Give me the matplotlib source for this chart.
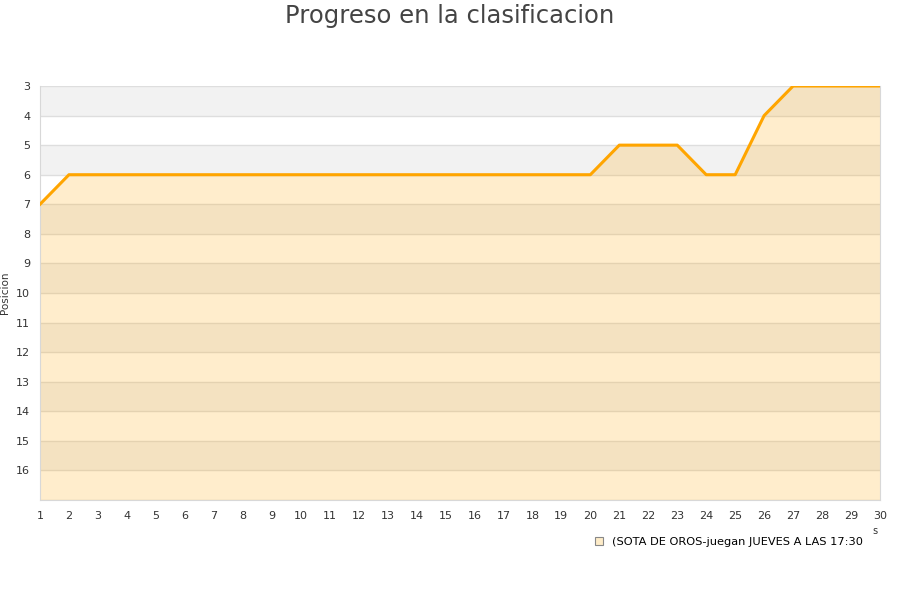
import matplotlib
matplotlib.use("Agg")
import matplotlib.pyplot as plt
from matplotlib.patches import Patch

jornadas = list(range(1, 31))
posicion = [7, 6, 6, 6, 6, 6, 6, 6, 6, 6, 6, 6, 6, 6, 6, 6, 6, 6, 6, 6,
            5, 5, 5, 6, 6, 4, 3, 3, 3, 3]
equipo = "(SOTA DE OROS-juegan JUEVES A LAS 17:30"
y_ticks = list(range(3, 17))

plt.rcParams['font.family'] = ['DejaVu Sans']

fig = plt.figure(figsize=(9, 6), dpi=100)
ax = fig.add_axes([40 / 900, 1 - 500 / 600, 840 / 900, 414 / 600])

# bandas alternas
for y0 in range(3, 17, 2):
    ax.axhspan(y0, y0 + 1, color='#f2f2f2', zorder=0, lw=0)
for y in range(3, 18):
    ax.axhline(y, color='#dedede', lw=1, zorder=1)

ax.fill_between(jornadas, posicion, 17, color='#ffa500', alpha=0.2, lw=0, zorder=2)
ax.plot(jornadas, posicion, color='#ffa500', lw=2.2, zorder=3)

ax.set_xlim(1, 30)
ax.set_ylim(17, 3)
ax.set_xticks(jornadas)
ax.set_yticks(y_ticks)
ax.tick_params(length=0, labelsize=8, colors='#333333', pad=8)
ax.tick_params(axis='y', pad=7)
ax.spines['top'].set_visible(False)
for s in ['left', 'bottom', 'right']:
    ax.spines[s].set_color('#d8d8d8')
ax.set_ylabel('Posicion', fontsize=7.5, color='#333333')
ax.yaxis.set_label_coords(-30 / 840, 0.5)

fig.text(0.5, 0.993, 'Progreso en la clasificacion', ha='center', va='top',
         fontsize=17.5, color='#444444')
fig.text(875 / 900, 1 - 531 / 600, 's', ha='center', va='center', fontsize=7,
         color='#333333')

leg = ax.legend(handles=[Patch(facecolor='#feecc8', edgecolor='#888888', lw=0.8,
                               label=equipo)],
                loc='upper right', bbox_to_anchor=(873 / 900, 1 - 527 / 600),
                bbox_transform=fig.transFigure, frameon=False, fontsize=8.2,
                handlelength=0.7, handleheight=0.7, handletextpad=0.8)

fig.savefig('out.png', dpi=100)
